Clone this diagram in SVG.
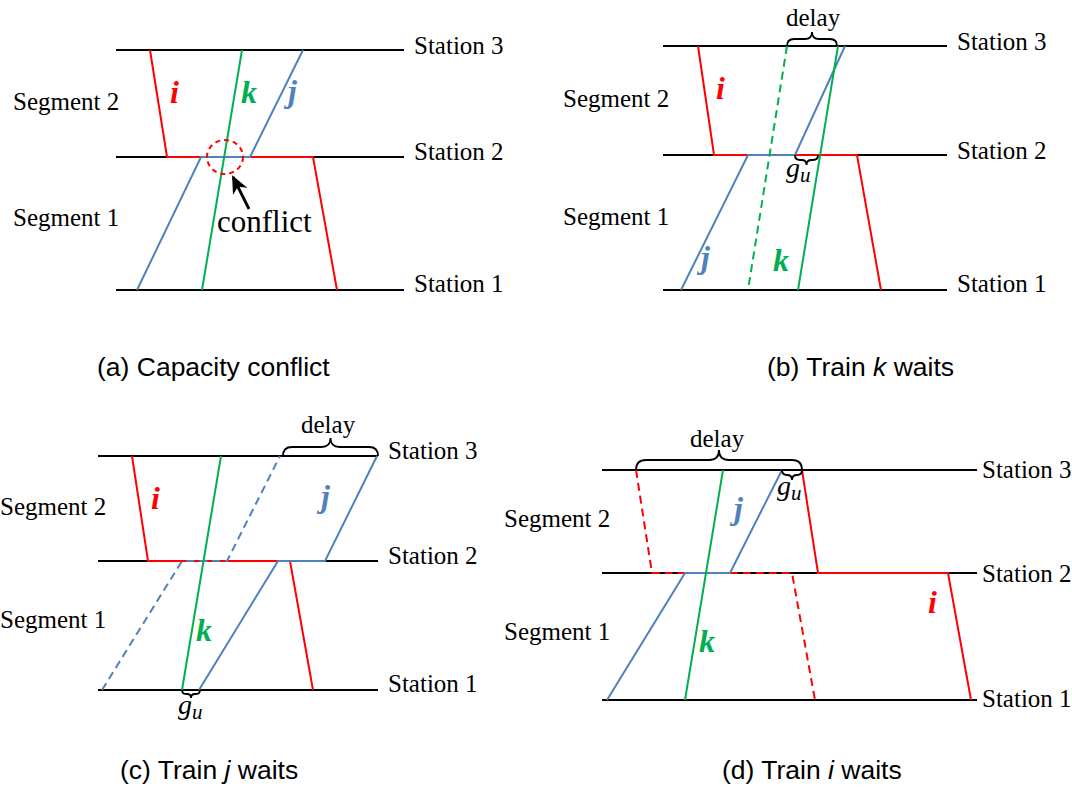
<svg xmlns="http://www.w3.org/2000/svg" width="1072" height="787" viewBox="0 0 1072 787">
  <style>
    .st { stroke: #000; stroke-width: 2.2; fill: none; }
    .red { stroke: #FF0000; stroke-width: 2; fill: none; }
    .grn { stroke: #00B050; stroke-width: 2; fill: none; }
    .blu { stroke: #4F81BD; stroke-width: 2; fill: none; }
    .dash { stroke-dasharray: 8 5; }
    .brace { stroke: #000; stroke-width: 1.8; fill: none; }
    .lbl { font-family: "Liberation Serif", "Times New Roman", serif; font-size: 25px; fill: #000; }
    .tr { font-family: "Liberation Serif", "Times New Roman", serif; font-size: 32px; font-style: italic; font-weight: bold; }
    .math { font-family: "Liberation Serif", "Times New Roman", serif; font-style: italic; fill: #000; }
    .cap { font-family: "Liberation Sans", Arial, sans-serif; font-size: 26.5px; fill: #000; }
  </style>
  <defs>
    <marker id="arrowHead" markerUnits="userSpaceOnUse" markerWidth="18" markerHeight="16" refX="16" refY="8" orient="auto">
      <path d="M0,0 L18,8 L0,16 L5,8 Z" fill="#000"/>
    </marker>
  </defs>
  <rect width="1072" height="787" fill="#fff"/>

  <!-- (a) Capacity conflict -->
  <g id="panel-a">
    <g id="a-stations">
      <line class="st" x1="116" y1="50" x2="404" y2="50"/>
      <line class="st" x1="116" y1="157" x2="404" y2="157"/>
      <line class="st" x1="116" y1="290" x2="404" y2="290"/>
      <text class="lbl" x="414" y="54">Station 3</text>
      <text class="lbl" x="414" y="160">Station 2</text>
      <text class="lbl" x="414" y="292">Station 1</text>
      <text class="lbl" x="13" y="110">Segment 2</text>
      <text class="lbl" x="13" y="226">Segment 1</text>
    </g>
    <g id="a-trains">
      <polyline class="red" points="150,50 167,157 313,157 337,290"/>
      <polyline class="blu" points="137,290 201,157 250,157 303,50"/>
      <line class="grn" x1="242" y1="50" x2="202" y2="290"/>
      <text class="tr" x="170" y="103" fill="#FF0000">i</text>
      <text class="tr" x="241" y="103" fill="#00B050">k</text>
      <text class="tr" x="288" y="102" fill="#4F81BD">j</text>
    </g>
    <g id="a-conflict">
      <ellipse cx="225" cy="157" rx="18" ry="17" fill="none" stroke="#FF0000" stroke-width="2" stroke-dasharray="5 4"/>
      <line x1="249" y1="209" x2="233" y2="177" stroke="#000" stroke-width="2.8" marker-end="url(#arrowHead)"/>
      <text class="lbl" x="217" y="232" style="font-size:31px">conflict</text>
    </g>
    <text class="cap" x="97" y="376">(a) Capacity conflict</text>
  </g>

  <!-- (b) Train k waits -->
  <g id="panel-b">
    <g id="b-stations">
      <line class="st" x1="663" y1="46" x2="947" y2="46"/>
      <line class="st" x1="663" y1="155" x2="947" y2="155"/>
      <line class="st" x1="663" y1="290" x2="947" y2="290"/>
      <text class="lbl" x="957" y="50">Station 3</text>
      <text class="lbl" x="957" y="159">Station 2</text>
      <text class="lbl" x="957" y="292">Station 1</text>
      <text class="lbl" x="563" y="107">Segment 2</text>
      <text class="lbl" x="563" y="225">Segment 1</text>
    </g>
    <g id="b-trains">
      <polyline class="red" points="698,46 714,155 857,155 881,290"/>
      <polyline class="blu" points="681,290 748,155 795,155 845,46"/>
      <line class="grn dash" x1="787" y1="46" x2="748" y2="290"/>
      <line class="grn" x1="838" y1="46" x2="798" y2="290"/>
      <text class="tr" x="716" y="99" fill="#FF0000">i</text>
      <text class="tr" x="701" y="268" fill="#4F81BD">j</text>
      <text class="tr" x="773" y="271" fill="#00B050">k</text>
    </g>
    <g id="b-notes">
      <path class="brace" d="M787,46 Q787,39 794,39 L805,39 Q812,39 812,32 Q812,39 819,39 L830,39 Q837,39 837,46"/>
      <text class="lbl" x="786" y="26">delay</text>
      <path class="brace" d="M795,155 Q795,160 800,160 L801.5,160 Q806.5,160 806.5,165 Q806.5,160 811.5,160 L813,160 Q818,160 818,155"/>
      <text class="math" x="786" y="177" font-size="28">g<tspan font-size="21" dy="5">u</tspan></text>
    </g>
    <text class="cap" x="767" y="376">(b) Train <tspan font-style="italic">k</tspan> waits</text>
  </g>

  <!-- (c) Train j waits -->
  <g id="panel-c">
    <g id="c-stations">
      <line class="st" x1="98" y1="456" x2="378" y2="456"/>
      <line class="st" x1="98" y1="561" x2="378" y2="561"/>
      <line class="st" x1="98" y1="690" x2="378" y2="690"/>
      <text class="lbl" x="388" y="459">Station 3</text>
      <text class="lbl" x="388" y="564">Station 2</text>
      <text class="lbl" x="388" y="692">Station 1</text>
      <text class="lbl" x="0" y="515">Segment 2</text>
      <text class="lbl" x="0" y="628">Segment 1</text>
    </g>
    <g id="c-trains">
      <polyline class="red" points="132,456 148,561 290,561 313,690"/>
      <polyline class="blu dash" points="102,690 182,561 227,561 280,456"/>
      <polyline class="blu" points="199,690 278,561 325,561 377,456"/>
      <line class="grn" x1="221" y1="456" x2="182" y2="690"/>
      <text class="tr" x="151" y="509" fill="#FF0000">i</text>
      <text class="tr" x="321" y="507" fill="#4F81BD">j</text>
      <text class="tr" x="196" y="641" fill="#00B050">k</text>
    </g>
    <g id="c-notes">
      <path class="brace" d="M283,456 Q283,447 292,447 L321.5,447 Q330.5,447 330.5,438 Q330.5,447 339.5,447 L369,447 Q378,447 378,456"/>
      <text class="lbl" x="301" y="433">delay</text>
      <path class="brace" d="M182,690 Q182,694 186,694 L187,694 Q191,694 191,698 Q191,694 195,694 L196,694 Q200,694 200,690"/>
      <text class="math" x="178" y="714" font-size="28">g<tspan font-size="21" dy="5">u</tspan></text>
    </g>
    <text class="cap" x="120" y="779">(c) Train <tspan font-style="italic">j</tspan> waits</text>
  </g>

  <!-- (d) Train i waits -->
  <g id="panel-d">
    <g id="d-stations">
      <line class="st" x1="602" y1="470" x2="977" y2="470"/>
      <line class="st" x1="602" y1="573" x2="977" y2="573"/>
      <line class="st" x1="602" y1="700" x2="977" y2="700"/>
      <text class="lbl" x="982" y="478">Station 3</text>
      <text class="lbl" x="982" y="582">Station 2</text>
      <text class="lbl" x="982" y="707">Station 1</text>
      <text class="lbl" x="504" y="527">Segment 2</text>
      <text class="lbl" x="504" y="640">Segment 1</text>
    </g>
    <g id="d-trains">
      <polyline class="red dash" points="636,470 652,573 792,573 815,700"/>
      <polyline class="red" points="802,470 818,573 948,573 971,700"/>
      <polyline class="blu" points="607,700 685,573 730,573 782,470"/>
      <line class="grn" x1="723" y1="470" x2="685" y2="700"/>
      <text class="tr" x="734" y="519" fill="#4F81BD">j</text>
      <text class="tr" x="928" y="613" fill="#FF0000">i</text>
      <text class="tr" x="699" y="652" fill="#00B050">k</text>
    </g>
    <g id="d-notes">
      <path class="brace" d="M636,470 Q636,460 646,460 L709,460 Q719,460 719,450 Q719,460 729,460 L792,460 Q802,460 802,470"/>
      <text class="lbl" x="690" y="447">delay</text>
      <path class="brace" d="M782,470 Q782,475 787,475 Q792,475 792,480 Q792,475 797,475 Q802,475 802,470"/>
      <text class="math" x="777" y="495" font-size="28">g<tspan font-size="21" dy="5">u</tspan></text>
    </g>
    <text class="cap" x="722" y="779">(d) Train <tspan font-style="italic">i</tspan> waits</text>
  </g>
</svg>
